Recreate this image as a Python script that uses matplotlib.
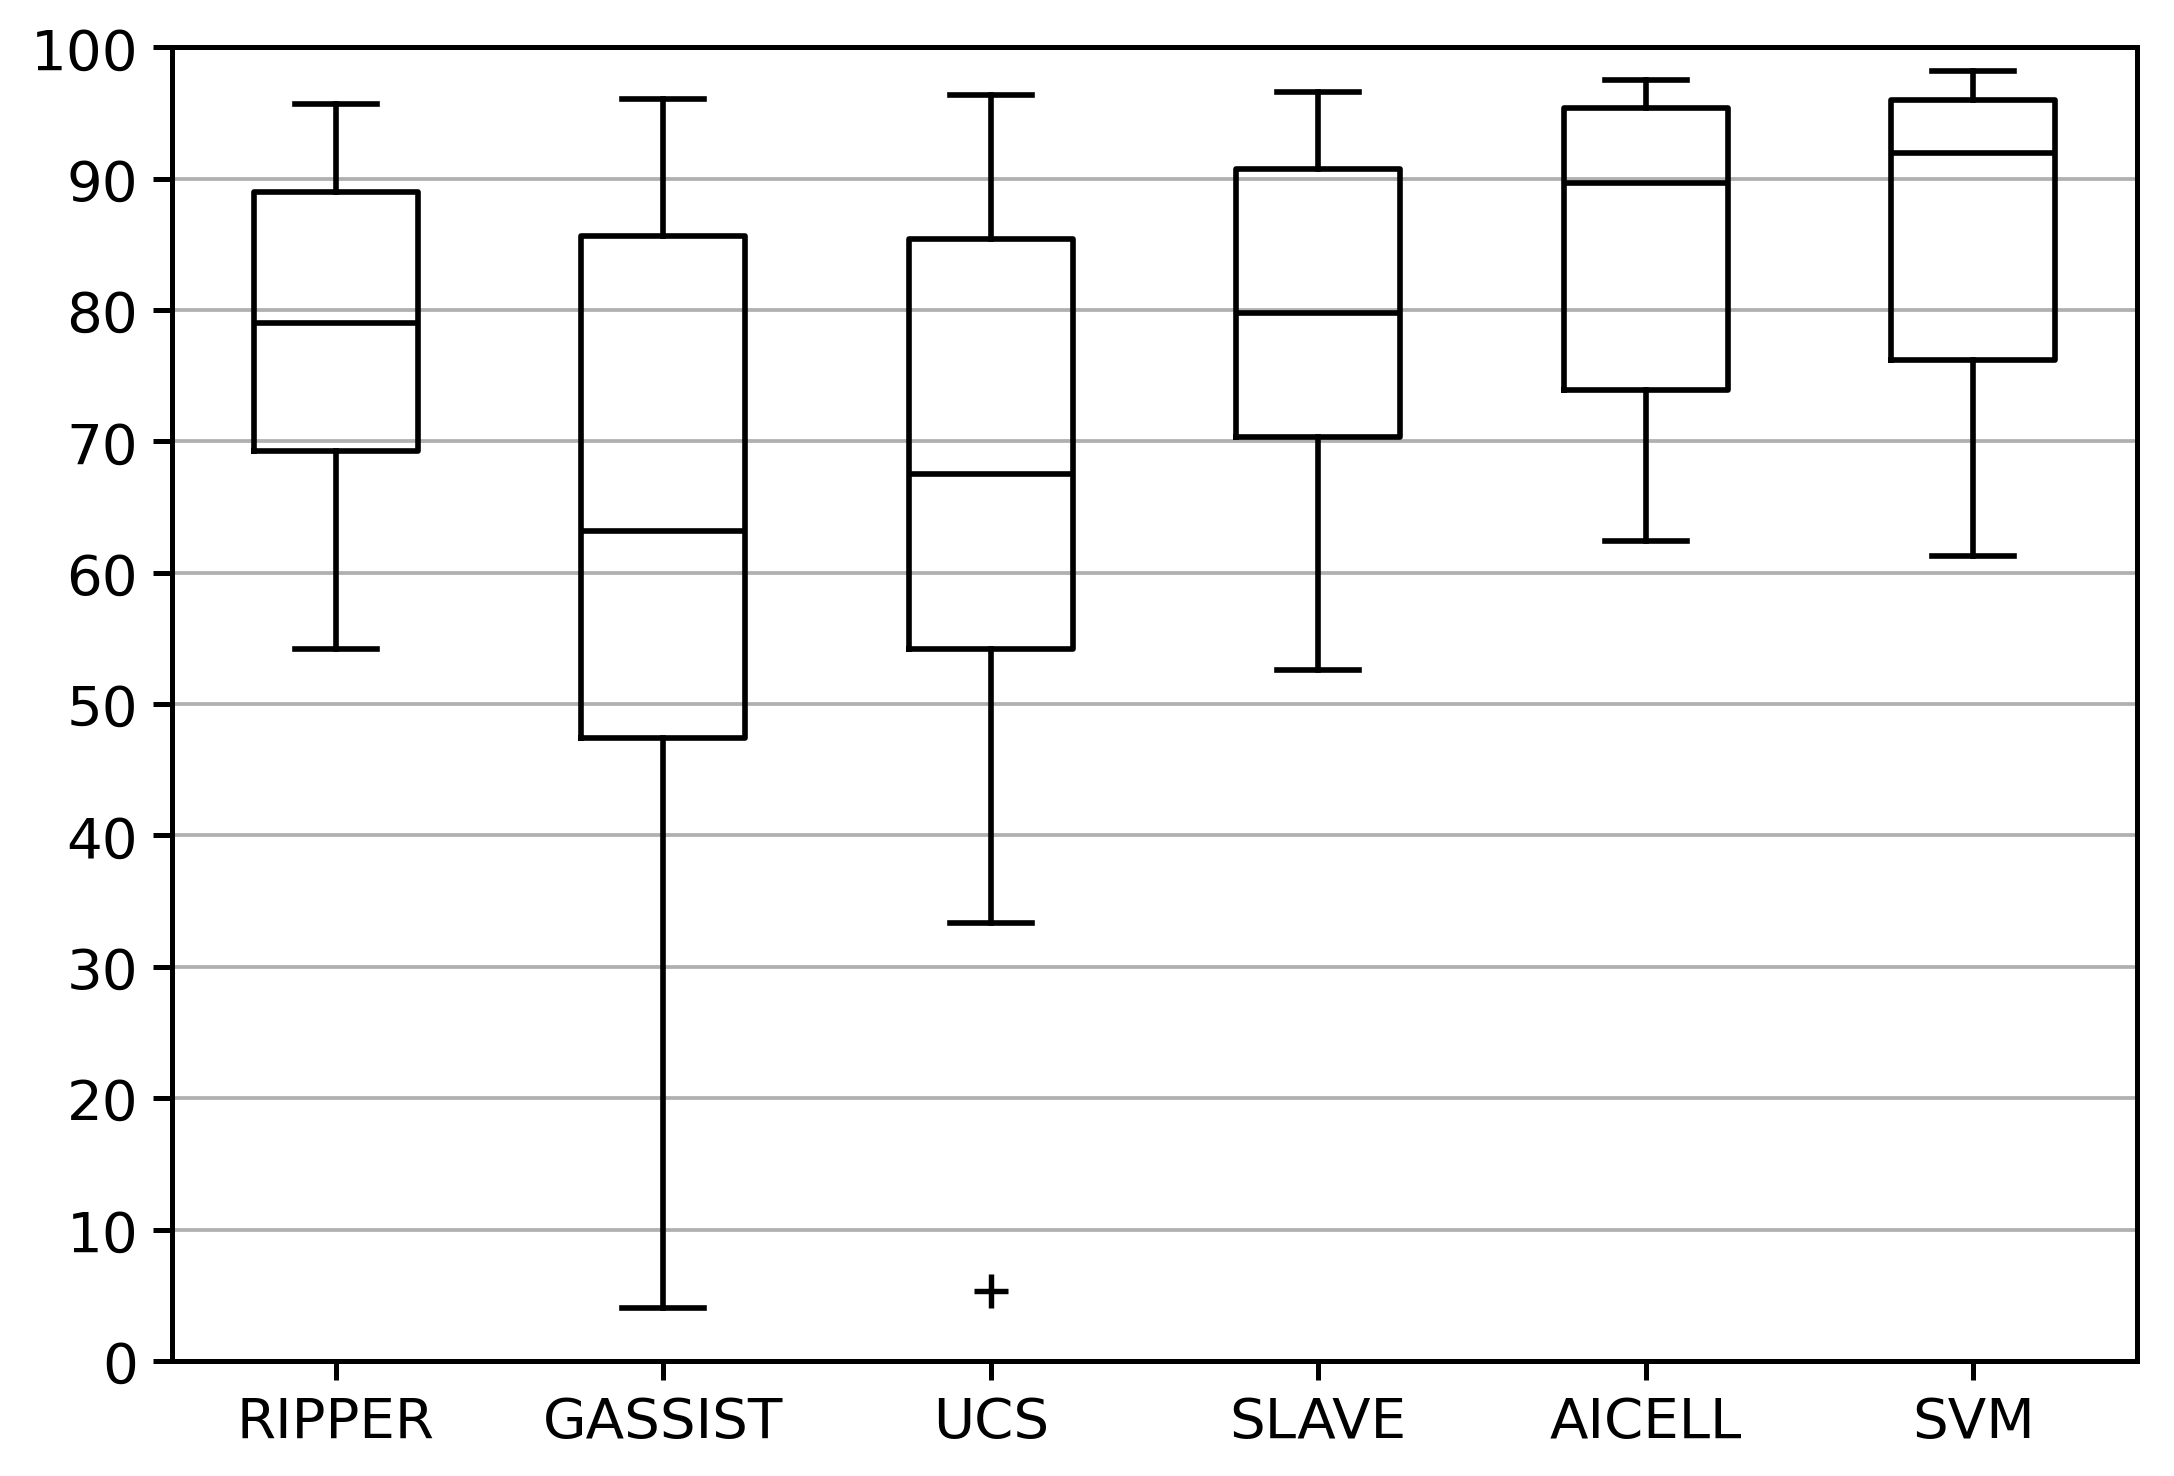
import matplotlib
matplotlib.use("Agg")
import matplotlib.pyplot as plt

categories = ["RIPPER", "GASSIST", "UCS", "SLAVE", "AICELL", "SVM"]
whislo = [54.2, 4.0, 33.3, 52.6, 62.4, 61.3]
q1 = [69.3, 47.4, 54.2, 70.3, 73.9, 76.2]
med = [79.05, 63.2, 67.5, 79.8, 89.7, 91.96]
q3 = [89.0, 85.6, 85.4, 90.7, 95.4, 96.0]
whishi = [95.7, 96.1, 96.4, 96.6, 97.5, 98.2]
fliers = [[], [], [5.3], [], [], []]
yticks = [0, 10, 20, 30, 40, 50, 60, 70, 80, 90, 100]

stats = []
for i, c in enumerate(categories):
    stats.append(dict(label=c, whislo=whislo[i], q1=q1[i], med=med[i],
                      q3=q3[i], whishi=whishi[i], fliers=fliers[i]))

fig = plt.figure(figsize=(2174 / 300, 1477 / 300), dpi=300)
ax = fig.add_axes([0.0791, 0.0779, 0.9830 - 0.0791, 0.9673 - 0.0779])

lw = 1.35
ax.bxp(stats, widths=0.5, showfliers=True,
       boxprops=dict(color="black", linewidth=lw),
       medianprops=dict(color="black", linewidth=lw),
       whiskerprops=dict(color="black", linewidth=lw),
       capprops=dict(color="black", linewidth=lw),
       flierprops=dict(marker="+", markeredgecolor="black", markersize=8,
                       markeredgewidth=1.3, linestyle="none"))

ax.set_xlim(0.5, 6.5)
ax.set_ylim(0, 100)
ax.set_yticks(yticks)
ax.yaxis.grid(True, color="#b0b0b0", linewidth=0.9)
ax.set_axisbelow(True)
for s in ax.spines.values():
    s.set_linewidth(1.2)
ax.tick_params(axis="both", labelsize=13.5, length=4.6, width=1.2)

fig.savefig("out.png", dpi=300)
